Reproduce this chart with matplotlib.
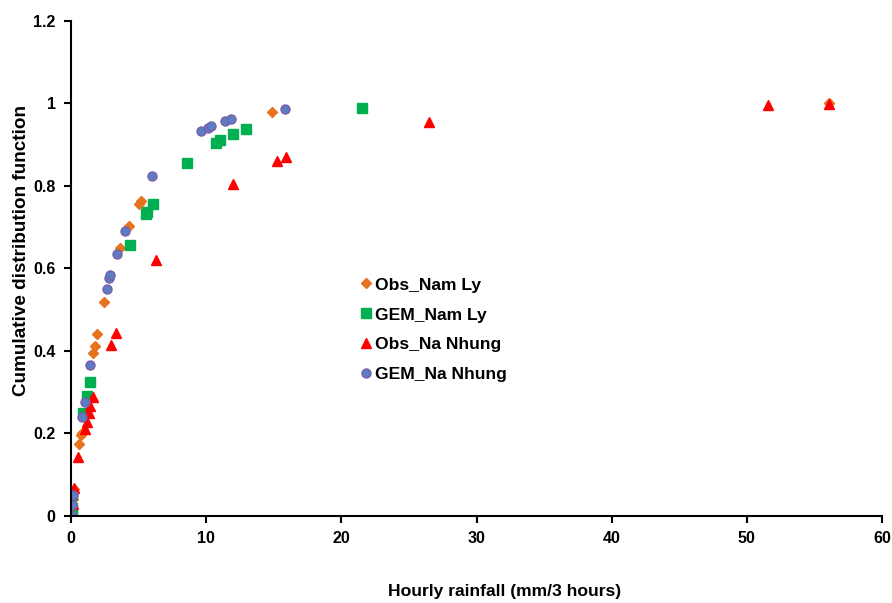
import matplotlib
matplotlib.use("Agg")
import matplotlib.pyplot as plt
from matplotlib.ticker import FuncFormatter, MultipleLocator

plt.rcParams['font.family'] = ['Liberation Sans', 'DejaVu Sans']
plt.rcParams['font.weight'] = 'bold'

# Obs_Nam Ly
obs_nl_x = [0.1, 0.1, 0.15, 0.2, 0.6, 0.72, 0.78, 1.65, 1.75, 1.92, 2.47, 3.65,
            4.26, 5.0, 5.15, 14.9, 56.1]
obs_nl_y = [0.0, 0.02, 0.04, 0.065, 0.175, 0.196, 0.2, 0.395, 0.412, 0.44, 0.518,
            0.65, 0.702, 0.756, 0.764, 0.979, 1.0]

# GEM_Nam Ly
gem_nl_x = [0.05, 0.1, 0.1, 0.86, 1.16, 1.41, 4.39, 5.55, 5.64, 6.04, 8.6,
            10.75, 11.02, 11.96, 12.92, 21.55]
gem_nl_y = [0.0, 0.02, 0.05, 0.249, 0.291, 0.324, 0.657, 0.731, 0.738, 0.756,
            0.855, 0.904, 0.911, 0.925, 0.937, 0.988]

# Obs_Na Nhung
obs_nn_x = [0.1, 0.15, 0.2, 0.54, 1.01, 1.16, 1.33, 1.4, 1.6, 2.93, 3.3, 6.31,
            12.0, 15.26, 15.9, 26.48, 51.57, 56.1]
obs_nn_y = [0.0, 0.03, 0.067, 0.144, 0.211, 0.229, 0.25, 0.267, 0.289, 0.415,
            0.444, 0.621, 0.804, 0.861, 0.870, 0.956, 0.996, 0.998]

# GEM_Na Nhung
gem_nn_x = [0.05, 0.1, 0.12, 0.81, 1.01, 1.43, 2.64, 2.84, 2.88, 3.38, 4.0,
            6.01, 9.62, 10.15, 10.33, 11.37, 11.83, 15.83]
gem_nn_y = [0.0, 0.027, 0.051, 0.241, 0.277, 0.365, 0.55, 0.576, 0.583, 0.635,
            0.691, 0.823, 0.933, 0.941, 0.945, 0.957, 0.962, 0.987]

fig = plt.figure(figsize=(8.92, 6.03), dpi=100)
ax = fig.add_axes([0.0796, 0.1443, 0.9092, 0.8209])

ax.plot(obs_nl_x, obs_nl_y, linestyle='none', marker='D', ms=5.5,
        color='#E8731E', mec='#E8731E', label='Obs_Nam Ly')
ax.plot(gem_nl_x, gem_nl_y, linestyle='none', marker='s', ms=7,
        color='#00B050', mec='#00B050', label='GEM_Nam Ly')
ax.plot(obs_nn_x, obs_nn_y, linestyle='none', marker='^', ms=7.5,
        color='#FF0000', mec='#FF0000', label='Obs_Na Nhung')
ax.plot(gem_nn_x, gem_nn_y, linestyle='none', marker='o', ms=6.5,
        color='#5B7DC4', mec='#7B5FA8', mew=1.0, label='GEM_Na Nhung')

ax.set_xlim(0, 60)
ax.set_ylim(0, 1.2)
ax.xaxis.set_major_locator(MultipleLocator(10))
ax.yaxis.set_major_locator(MultipleLocator(0.2))
ax.yaxis.set_major_formatter(FuncFormatter(lambda v, p: f"{v:g}"))

for s in ['top', 'right']:
    ax.spines[s].set_visible(False)
for s in ['left', 'bottom']:
    ax.spines[s].set_linewidth(1.5)
ax.tick_params(axis='both', direction='out', length=5, width=1.5,
               labelsize=11.5, pad=6)
for lab in ax.get_xticklabels() + ax.get_yticklabels():
    lab.set_fontweight('bold')

ax.set_xlabel("Hourly rainfall (mm/3 hours)", fontsize=12.6, fontweight='bold')
ax.xaxis.set_label_coords(0.534, -0.137)
ax.set_ylabel("Cumulative distribution function", fontsize=13.6, fontweight='bold')
ax.yaxis.set_label_coords(-0.050, 0.537)

leg = ax.legend(loc='center left', bbox_to_anchor=(0.343, 0.376), frameon=False,
                prop={'size': 12.6, 'weight': 'bold'}, handletextpad=0.1,
                handlelength=0.9, labelspacing=0.84, borderpad=0)

fig.savefig("out.png", dpi=100)
